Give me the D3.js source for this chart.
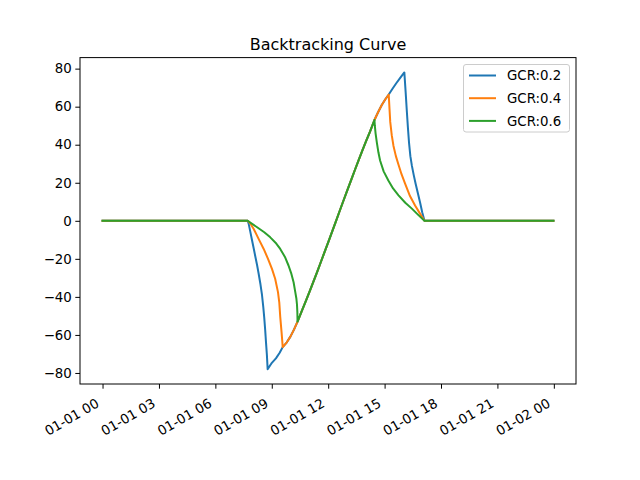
<!DOCTYPE html>
<html>
<head>
<meta charset="utf-8">
<script src="https://cdn.jsdelivr.net/npm/d3@7"></script>
<style>
  body { margin: 0; background: #fff; }
  text { font-family: "DejaVu Sans", sans-serif; }
</style>
</head>
<body>
<div id="chart"></div>
<script>
// hours after 01-01 00:00, tracker angle in degrees

// true tracking part, shared by every GCR
var trueHours  = [8.78, 8.98, 9.22, 9.42, 9.58, 9.80, 9.99, 10.18, 10.37, 10.62, 10.82, 11.02,
                  11.22, 11.42, 11.62, 11.82, 12.02, 12.22, 12.42, 12.62, 12.82, 13.02, 13.22,
                  13.42, 13.62, 13.82, 14.02, 14.22, 14.46, 14.66, 14.85, 15.04, 15.22, 15.42,
                  15.62, 15.82, 16.05];
var trueAngles = [-78, -75.0, -72.3, -69.4, -66.4, -63.9, -60.9, -57.2, -53, -46.8, -42.0, -37.0,
                  -31.9, -26.7, -21.4, -16.1, -10.8, -5.4, 0, 5.4, 10.8, 16.1, 21.4,
                  26.7, 31.9, 37.0, 42.0, 46.8, 53, 57.2, 60.9, 63.9, 66.4, 69.4,
                  72.3, 75.0, 78];

// GCR 0.2
var amHours02  = [0, 7.72, 7.77, 7.86, 7.95, 8.04, 8.13, 8.22, 8.30, 8.40, 8.48, 8.55, 8.60, 8.65, 8.69, 8.74, 8.78];
var amAngles02 = [0, 0, -1.5, -5.8, -10.2, -14.6, -19.0, -23.4, -27.7, -33.5, -39, -45.5, -51, -57.5, -63.5, -70.5, -78];
var pmHours02  = [16.05, 16.12, 16.18, 16.24, 16.30, 16.37, 16.45, 16.55, 16.65, 16.77, 16.89, 17.00, 17.12, 23.98];
var pmAngles02 = [78, 67.5, 58, 49, 41, 34, 29, 24, 19.5, 14.5, 9.5, 4.5, 0, 0];

// GCR 0.4
var amHours04  = [0, 7.72, 7.85, 8.04, 8.30, 8.57, 8.80, 9.01, 9.18, 9.33, 9.40, 9.45, 9.52, 9.56, 9.58];
var amAngles04 = [0, 0, -1.3, -4.3, -9.5, -14.8, -20, -25.3, -30.5, -37.5, -43, -50.5, -58.5, -63.5, -66.4];
var pmHours04  = [15.22, 15.26, 15.30, 15.38, 15.47, 15.60, 15.74, 15.90, 16.09, 16.35, 16.62, 16.90, 17.12, 23.98];
var pmAngles04 = [66.4, 59, 52, 45, 39.5, 34, 29.5, 24.5, 19.5, 13, 8, 3.5, 0, 0];

// GCR 0.6
var amHours06  = [0, 7.72, 8.22, 8.60, 8.92, 9.20, 9.45, 9.70, 9.89, 10.03, 10.16, 10.25, 10.31, 10.34, 10.36, 10.37];
var amAngles06 = [0, 0, -3.4, -6, -8.7, -11.5, -14.8, -19, -23.5, -27.5, -32.3, -37.5, -41, -44, -48, -53];
var pmHours06  = [14.46, 14.48, 14.52, 14.59, 14.67, 14.76, 14.95, 15.20, 15.45, 15.74, 16.10, 16.45, 16.80, 17.12, 23.98];
var pmAngles06 = [53, 50, 46, 41, 36, 31.7, 26, 21.2, 17, 13.4, 9.5, 6.4, 3, 0, 0];

var gcrLabels = ["GCR:0.2", "GCR:0.4", "GCR:0.6"];
var colors = ["#1f77b4", "#ff7f0e", "#2ca02c"];
var yTicks = [-80, -60, -40, -20, 0, 20, 40, 60, 80];

var day0 = new Date(2019, 0, 1, 0, 0);

function toDate(h) {
  return new Date(day0.getTime() + h * 3600e3);
}

// morning backtracking + true tracking between the cusps + evening backtracking
function buildSeries(amH, amA, pmH, pmA) {
  var pts = amH.map(function (h, i) { return [h, amA[i]]; });
  var c0 = amH[amH.length - 1], c1 = pmH[0];
  trueHours.forEach(function (h, i) {
    if (h > c0 && h < c1) pts.push([h, trueAngles[i]]);
  });
  pmH.forEach(function (h, i) { pts.push([h, pmA[i]]); });
  return pts.map(function (p) { return { t: toDate(p[0]), v: p[1] }; });
}

var series = [
  buildSeries(amHours02, amAngles02, pmHours02, pmAngles02),
  buildSeries(amHours04, amAngles04, pmHours04, pmAngles04),
  buildSeries(amHours06, amAngles06, pmHours06, pmAngles06)
];

var W = 640, H = 480;
var axLeft = 80, axRight = 576, axTop = 57.6, axBottom = 384;

var svg = d3.select("#chart").append("svg")
  .attr("width", W).attr("height", H);

// matplotlib style 5% margins
var all = [].concat.apply([], series);
var tExt = d3.extent(all, function (d) { return d.t; });
var vExt = d3.extent(all, function (d) { return d.v; });
var tPad = (tExt[1] - tExt[0]) * 0.05;
var vPad = (vExt[1] - vExt[0]) * 0.05;

var x = d3.scaleTime()
  .domain([new Date(tExt[0].getTime() - tPad), new Date(tExt[1].getTime() + tPad)])
  .range([axLeft, axRight]);
var y = d3.scaleLinear()
  .domain([vExt[0] - vPad, vExt[1] + vPad])
  .range([axBottom, axTop]);

var line = d3.line()
  .x(function (d) { return x(d.t); })
  .y(function (d) { return y(d.v); });

svg.append("g").selectAll("path")
  .data(series)
  .join("path")
  .attr("d", line)
  .attr("fill", "none")
  .attr("stroke", function (d, i) { return colors[i]; })
  .attr("stroke-width", 2)
  .attr("stroke-linejoin", "round")
  .attr("stroke-linecap", "square");

// axes
var yAxis = svg.append("g")
  .attr("transform", "translate(" + axLeft + ",0)")
  .call(d3.axisLeft(y).tickValues(yTicks).tickSize(4.7).tickSizeOuter(0).tickPadding(3.5));

var xAxis = svg.append("g")
  .attr("transform", "translate(0," + axBottom + ")")
  .call(d3.axisBottom(x).ticks(d3.timeHour.every(3)).tickFormat(d3.timeFormat("%m-%d %H"))
    .tickSize(4.7).tickSizeOuter(0).tickPadding(3.5));

[xAxis, yAxis].forEach(function (g) {
  g.select(".domain").remove();
  g.selectAll(".tick line").attr("stroke", "#000").attr("stroke-width", 1);
  g.selectAll(".tick text")
    .attr("fill", "#000")
    .style("font-size", "13.33px")
    .style("font-family", "'DejaVu Sans', sans-serif");
});

// rotated date labels, right end anchored under the tick
xAxis.selectAll(".tick text")
  .attr("text-anchor", "end")
  .attr("y", 0)
  .attr("dy", 0)
  .attr("transform", "translate(-3,22) rotate(-30)");

// frame
svg.append("rect")
  .attr("x", axLeft).attr("y", axTop)
  .attr("width", axRight - axLeft).attr("height", axBottom - axTop)
  .attr("fill", "none").attr("stroke", "#000").attr("stroke-width", 1);

// title
svg.append("text")
  .attr("x", (axLeft + axRight) / 2).attr("y", 49.5)
  .attr("text-anchor", "middle")
  .style("font-size", "16px")
  .text("Backtracking Curve");

// legend
var lg = svg.append("g");
lg.append("rect")
  .attr("x", 463.5).attr("y", 64.5)
  .attr("width", 106).attr("height", 67.5)
  .attr("rx", 2.5)
  .attr("fill", "#fff").attr("fill-opacity", 0.8)
  .attr("stroke", "#ccc").attr("stroke-width", 1);

var rows = lg.selectAll("g.row")
  .data(gcrLabels)
  .join("g")
  .attr("class", "row")
  .attr("transform", function (d, i) { return "translate(0," + (75.5 + i * 22.7) + ")"; });

rows.append("line")
  .attr("x1", 469).attr("x2", 496)
  .attr("stroke", function (d, i) { return colors[i]; })
  .attr("stroke-width", 2);

rows.append("text")
  .attr("x", 507).attr("y", 0).attr("dy", "0.36em")
  .style("font-size", "13.33px")
  .text(function (d) { return d; });
</script>
</body>
</html>
